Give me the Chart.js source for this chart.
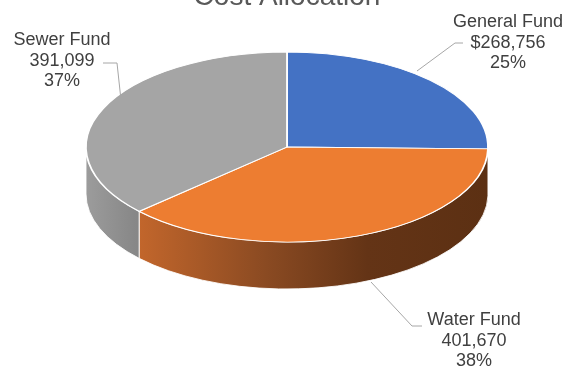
<!DOCTYPE html>
<html>
<head>
<meta charset="utf-8">
<script src="https://cdn.jsdelivr.net/npm/chart.js@4.4.0/dist/chart.umd.min.js"></script>
<style>
  html, body { margin: 0; padding: 0; background: #fff; }
  #wrap { width: 569px; height: 373px; }
</style>
</head>
<body>
<div id="wrap"><canvas id="chart" width="569" height="373"></canvas></div>
<script>
const TITLE = "Cost Allocation";
const categories = ["General Fund", "Water Fund", "Sewer Fund"];
const values = [268756, 401670, 391099];
const valuePrefix = ["$", "", ""];
const topColors = ["#4472C4", "#ED7D31", "#A5A5A5"];

// where the 3D disc sits on the page
const disc = { cx: 287, cy: 147, rx: 201, ry: 95, depth: 47 };

// label placement (centre x, first baseline y) and leader polylines
const labelPos = [
  { x: 508, y: 27, leader: [[417, 71], [455, 43], [463, 43]] },
  { x: 474, y: 325, leader: [[371, 282], [412, 326], [422, 326]] },
  { x: 62, y: 45, leader: [[121, 100], [117, 63], [103, 63]] }
];

const total = values.reduce((a, b) => a + b, 0);

function sideFill(ctx, i) {
  if (i === 1) {
    const g = ctx.createLinearGradient(disc.cx - disc.rx, 0, disc.cx + disc.rx, 0);
    g.addColorStop(0, "#D0702F");
    g.addColorStop(0.12, "#C4672C");
    g.addColorStop(0.45, "#8A4A22");
    g.addColorStop(0.7, "#643416");
    g.addColorStop(1, "#5C3013");
    return g;
  }
  if (i === 2) {
    const g = ctx.createLinearGradient(disc.cx - disc.rx, 0, disc.cx - disc.rx + 50, 0);
    g.addColorStop(0, "#9C9C9C");
    g.addColorStop(1, "#878787");
    return g;
  }
  return "#2F5597";
}

const pie3d = {
  id: "pie3d",
  beforeDatasetsDraw(chart) {
    const ctx = chart.ctx;
    const arcs = chart.getDatasetMeta(0).data;
    const { cx, cy, rx, ry, depth } = disc;

    // side walls (front half only)
    arcs.forEach((arc, i) => {
      let s = arc.startAngle, e = arc.endAngle;
      const a1 = Math.max(s, 0), a2 = Math.min(e, Math.PI);
      if (a2 - a1 < 0.001) return;
      ctx.save();
      ctx.beginPath();
      ctx.ellipse(cx, cy, rx, ry, 0, a1, a2, false);
      ctx.ellipse(cx, cy + depth, rx, ry, 0, a2, a1, true);
      ctx.closePath();
      ctx.fillStyle = sideFill(ctx, i);
      ctx.fill();
      ctx.strokeStyle = "rgba(255,255,255,0.85)";
      ctx.lineWidth = 1;
      ctx.stroke();
      ctx.restore();
    });

    // squash the flat pie into the top face
    const a = arcs[0];
    const R = a.outerRadius;
    ctx.save();
    ctx.translate(cx, cy);
    ctx.scale(rx / R, ry / R);
    ctx.translate(-a.x, -a.y);
  },
  afterDatasetsDraw(chart) {
    const ctx = chart.ctx;
    ctx.restore();

    // title
    ctx.save();
    ctx.fillStyle = "#595959";
    ctx.font = "28px 'Liberation Sans', Arial, sans-serif";
    ctx.textAlign = "center";
    ctx.textBaseline = "alphabetic";
    ctx.fillText(TITLE, disc.cx, 5);

    // leader lines
    ctx.strokeStyle = "#A6A6A6";
    ctx.lineWidth = 1;
    labelPos.forEach(p => {
      ctx.beginPath();
      p.leader.forEach((pt, k) => k ? ctx.lineTo(pt[0], pt[1]) : ctx.moveTo(pt[0], pt[1]));
      ctx.stroke();
    });

    // data labels
    ctx.fillStyle = "#404040";
    ctx.font = "18px 'Liberation Sans', Arial, sans-serif";
    categories.forEach((c, i) => {
      const p = labelPos[i];
      const lines = [
        c,
        valuePrefix[i] + values[i].toLocaleString("en-US"),
        Math.round(values[i] / total * 100) + "%"
      ];
      lines.forEach((t, k) => ctx.fillText(t, p.x, p.y + k * 20.5));
    });
    ctx.restore();
  }
};

new Chart(document.getElementById("chart"), {
  type: "pie",
  data: {
    labels: categories,
    datasets: [{
      data: values,
      backgroundColor: topColors,
      borderColor: "#FFFFFF",
      borderWidth: 1.5
    }]
  },
  options: {
    responsive: false,
    animation: false,
    layout: { padding: 20 },
    plugins: {
      legend: { display: false },
      tooltip: { enabled: false }
    }
  },
  plugins: [pie3d]
});
</script>
</body>
</html>
